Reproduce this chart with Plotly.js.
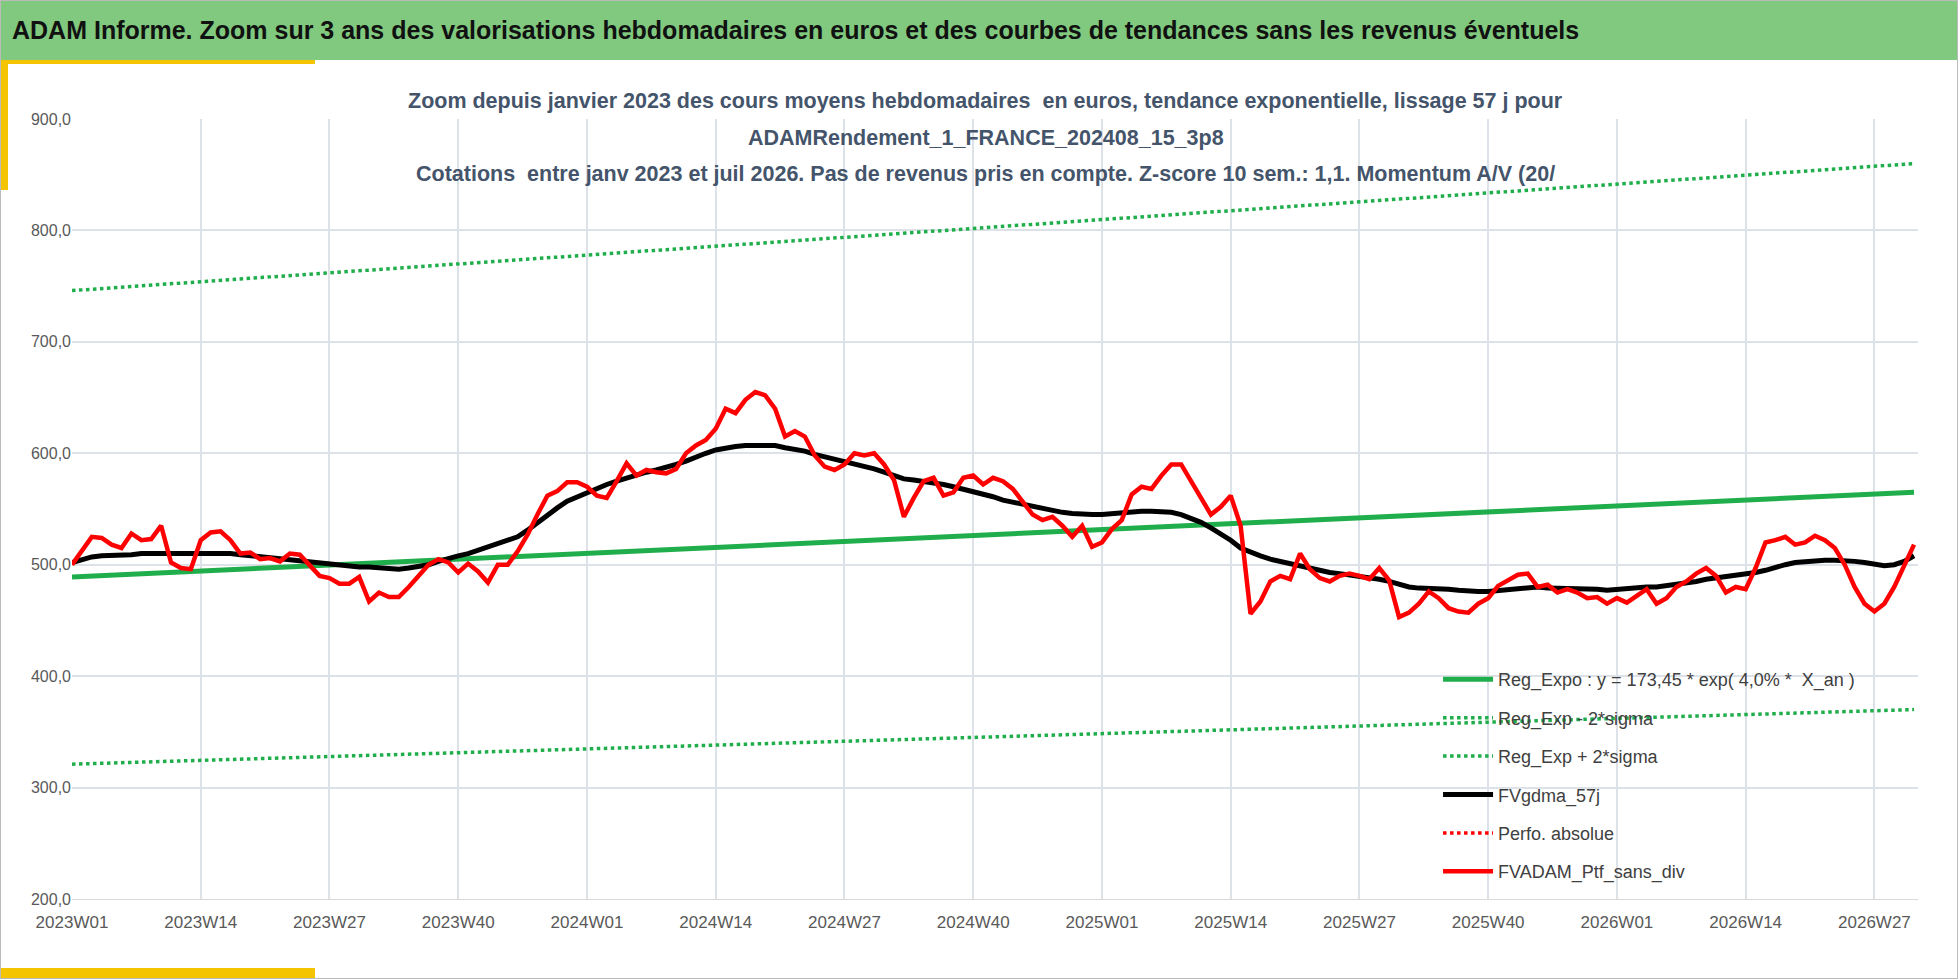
<!DOCTYPE html>
<html lang="fr">
<head>
<meta charset="utf-8">
<title>ADAM Informe</title>
<script src="https://cdn.plot.ly/plotly-3.0.1.min.js"></script>
<style>
  body, html { margin: 0; padding: 0; background: #fff; overflow: hidden; }
  #bar { position: absolute; left: 0; top: 0; width: 1958px; height: 60px; background: #80c97e;
         font-family: "Liberation Sans", sans-serif; font-weight: bold;
         font-size: 25px; line-height: 60px; padding-left: 12px; box-sizing: border-box; color: #111; }
  #plot { position: absolute; left: 0; top: 0; width: 1958px; height: 979px; }
  .acc { position: absolute; background: #f5c400; }
  #frame { position: absolute; left: 0; top: 0; width: 1956px; height: 977px; border: 1px solid #bbb; pointer-events: none; }
</style>
</head>
<body>
<div id="plot"></div>
<div id="bar">ADAM Informe. Zoom sur 3 ans des valorisations hebdomadaires en euros et des courbes de tendances sans les revenus éventuels</div>
<div class="acc" style="left:0;top:60px;width:315px;height:4px"></div>
<div class="acc" style="left:0;top:60px;width:8px;height:130px"></div>
<div class="acc" style="left:0;top:968px;width:315px;height:11px"></div>
<div id="frame"></div>
<script>
// weekly categories 2023W01 .. 2026W31
const yearWeeks = [[2023, 52], [2024, 52], [2025, 52], [2026, 31]];
const weeks = [];
yearWeeks.forEach(function (yw) {
    for (let w = 1; w <= yw[1]; w++) weeks.push(yw[0] + 'W' + (w < 10 ? '0' + w : w));
});
const tickWeeks = ['2023W01', '2023W14', '2023W27', '2023W40', '2024W01', '2024W14', '2024W27', '2024W40',
    '2025W01', '2025W14', '2025W27', '2025W40', '2026W01', '2026W14', '2026W27'];

const fvAdam = [
    500, 512, 525, 524, 518, 515, 528, 522, 523, 535, 502, 497, 496, 522, 529, 530, 522, 510, 511, 505,
    506, 503, 510, 509, 500, 490, 488, 483, 483, 489, 467, 475, 471, 471, 480, 490, 500, 505, 502, 493,
    501, 494, 484, 500, 500, 512, 527, 545, 562, 566, 574, 574,
    570, 562, 560, 575, 591, 580, 585, 583, 582, 586, 600, 607, 612, 622, 640, 636, 648, 655, 652, 640,
    615, 620, 615, 598, 588, 585, 590, 600, 598, 600, 590, 576, 543, 560, 575, 578, 562, 565, 578, 580,
    572, 578, 575, 568, 556, 545, 540, 543, 535, 525, 535, 516,
    520, 532, 540, 563, 570, 568, 580, 590, 590, 575, 560, 545, 552, 562, 535, 456, 467, 485, 490, 487,
    510, 496, 488, 485, 490, 492, 490, 487, 497, 486, 453, 457, 465, 476, 470, 461, 458, 457, 465, 470,
    481, 486, 491, 492, 480, 482, 475, 478, 475, 470, 471, 465,
    470, 466, 472, 478, 465, 470, 480, 485, 492, 497, 490, 475, 480, 478, 497, 520, 522, 525, 518, 520,
    526, 522, 515, 500, 480, 465, 458, 465, 480, 500, 518];

const fvGdma57 = [
    502, 505, 507, 508, 508, 509, 509, 510, 510, 511, 511, 511, 510, 510, 510, 511, 510, 509, 508, 507,
    506, 505, 505, 504, 503, 502, 501, 500, 499, 498, 498, 497, 496, 496, 497, 498, 500, 503, 506, 508,
    510, 513, 515, 518, 521, 525, 531, 538, 545, 551, 557, 561,
    565, 569, 572, 575, 578, 581, 583, 585, 587, 590, 593, 597, 600, 603, 605, 606, 607, 607, 608, 607,
    605, 604, 602, 599, 597, 595, 593, 590, 588, 586, 583, 580, 577, 576, 575, 574, 572, 570, 568, 566,
    564, 561, 558, 556, 554, 552, 550, 548, 547, 546, 545, 545,
    545, 546, 547, 548, 548, 548, 548, 547, 545, 542, 538, 533, 528, 522, 515, 511, 508, 505, 503, 500,
    498, 496, 494, 493, 492, 491, 490, 489, 487, 485, 482, 480, 479, 479, 479, 478, 477, 476, 476, 476,
    477, 478, 479, 480, 480, 479, 479, 479, 478, 478, 478, 477,
    478, 478, 479, 480, 480, 481, 482, 483, 485, 487, 488, 489, 490, 491, 493, 495, 498, 500, 502, 503,
    503, 504, 504, 504, 503, 502, 500, 499, 500, 503, 508];

// trend lines, read at both ends of the period
const trendWeeks = ['2023W01', '2026W31'];
const regExpo = [489, 565];
const regMinus = [321, 370];
const regPlus = [746, 860];

const green = '#1fae4b';
const font = '"Liberation Sans", Arial, sans-serif';

const data = [
    { x: trendWeeks, y: regExpo, mode: 'lines', name: 'Reg_Expo : y = 173,45 * exp( 4,0% *  X_an )',
      line: { color: green, width: 5 }, legendgroup: 'a' },
    { x: trendWeeks, y: regMinus, mode: 'lines', name: 'Reg_Exp - 2*sigma',
      line: { color: green, width: 3.5, dash: 'dot' }, legendgroup: 'b' },
    { x: trendWeeks, y: regPlus, mode: 'lines', name: 'Reg_Exp + 2*sigma',
      line: { color: green, width: 3.5, dash: 'dot' }, legendgroup: 'c' },
    { x: weeks, y: fvGdma57, mode: 'lines', name: 'FVgdma_57j',
      line: { color: '#000', width: 5 }, legendgroup: 'd' },
    { x: [weeks[0]], y: [null], mode: 'lines', name: 'Perfo. absolue',
      line: { color: '#ff0000', width: 3.5, dash: 'dot' }, legendgroup: 'e' },
    { x: weeks, y: fvAdam, mode: 'lines', name: 'FVADAM_Ptf_sans_div',
      line: { color: '#ff0000', width: 4.5 }, legendgroup: 'f' }
];

const plotH = 780, plotTop = 119;
function py(pix) { return (plotTop + plotH - pix) / plotH; }
const subColor = '#44546a';
const subtitles = [
    ['Zoom depuis janvier 2023 des cours moyens hebdomadaires  en euros, tendance exponentielle, lissage 57 j pour', 101],
    ['ADAMRendement_1_FRANCE_202408_15_3p8', 138],
    ['Cotations  entre janv 2023 et juil 2026. Pas de revenus pris en compte. Z-score 10 sem.: 1,1. Momentum A/V (20/', 174]
];

const layout = {
    width: 1958, height: 979,
    margin: { l: 72, r: 40, t: plotTop, b: 80 },
    paper_bgcolor: 'rgba(0,0,0,0)', plot_bgcolor: '#fff',
    font: { family: font, color: '#595959' },
    separators: ',.',
    showlegend: true,
    legend: { x: 0.74, y: 0.305, xanchor: 'left', yanchor: 'top', bgcolor: 'rgba(0,0,0,0)',
              font: { size: 18, color: '#404040', family: font }, tracegroupgap: 12, itemwidth: 50 },
    xaxis: { type: 'category', categoryorder: 'array', categoryarray: weeks, range: [0, 186.4],
             tickvals: tickWeeks, ticktext: tickWeeks, ticklabelstandoff: 8,
             showgrid: true, gridcolor: '#dde1e8', gridwidth: 1.5, zeroline: false,
             tickfont: { size: 17, color: '#595959' }, ticks: '', showline: true, linecolor: '#d9d9d9' },
    yaxis: { range: [200, 900], dtick: 100, tickformat: '.1f', showgrid: true, gridcolor: '#dde1e8',
             gridwidth: 1.5, zeroline: false, tickfont: { size: 16, color: '#595959' }, ticks: '' },
    annotations: subtitles.map(function (s) {
        return { text: '<b>' + s[0] + '</b>', xref: 'paper', yref: 'paper', x: 0.495, y: py(s[1]),
                 xanchor: 'center', yanchor: 'middle', showarrow: false,
                 font: { size: 21.5, color: subColor, family: font } };
    })
};

Plotly.newPlot('plot', data, layout, { displayModeBar: false });
</script>
</body>
</html>
